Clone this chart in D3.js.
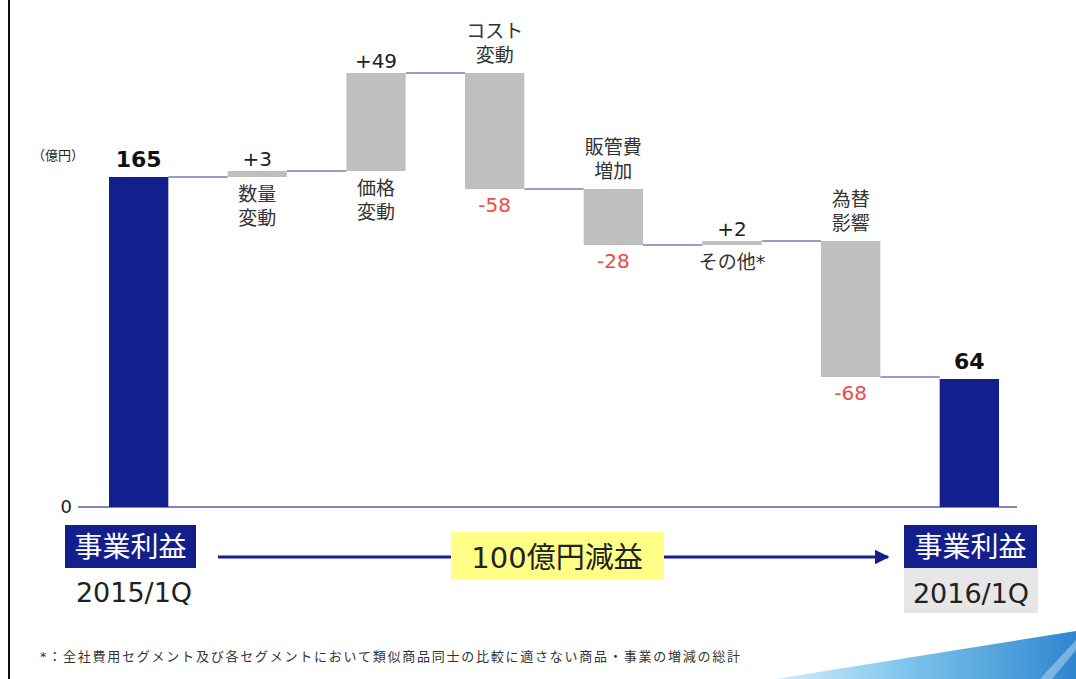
<!DOCTYPE html>
<html>
<head>
<meta charset="utf-8">
<script src="https://cdn.jsdelivr.net/npm/d3@7"></script>
<style>
  html, body { margin: 0; padding: 0; background: #fff; }
  svg { display: block; }
  text { font-family: "DejaVu Sans", "Noto Sans CJK JP", sans-serif; }
</style>
</head>
<body>
<svg id="chart" width="1076" height="679"></svg>
<script>
// ---- data ----
const categories = ["2015/1Q", "数量変動", "価格変動", "コスト変動", "販管費増加", "その他*", "為替影響", "2016/1Q"];
const nameLines = [[], ["数量", "変動"], ["価格", "変動"], ["コスト", "変動"], ["販管費", "増加"], ["その他*"], ["為替", "影響"], []];
const values = [165, 3, 49, -58, -28, 2, -68, 64];
const kinds = ["total", "delta", "delta", "delta", "delta", "delta", "delta", "total"];
const valueLabels = ["165", "+3", "+49", "-58", "-28", "+2", "-68", "64"];
const yTicks = [0];
const unitLabel = "（億円）";
const startLabel = "2015/1Q";
const endLabel = "2016/1Q";
const boxLabel = "事業利益";
const changeLabel = "100億円減益";
const footnote = "*：全社費用セグメント及び各セグメントにおいて類似商品同士の比較に適さない商品・事業の増減の総計";

// ---- build waterfall rows ----
let run = 0;
const rows = categories.map((c, i) => {
  let lo, hi;
  if (kinds[i] === "total") { lo = 0; hi = values[i]; run = values[i]; }
  else { const s = run; run = s + values[i]; lo = Math.min(s, run); hi = Math.max(s, run); }
  return { cat: c, i, lo, hi, end: run, v: values[i], kind: kinds[i], label: valueLabels[i], lines: nameLines[i] };
});

const svg = d3.select("#chart");
const x = d3.scaleBand().domain(categories).range([109, 999]).paddingInner(0.5).paddingOuter(0);
const y = d3.scaleLinear().domain([0, 250]).range([507, 7]);

const NAVY = "#121f8c";
const GRAY = "#bfbfbf";
const RED = "#ef4a45";
const LINE = "#7b7bb8";

// left page border
svg.append("line").attr("x1", 9).attr("x2", 9).attr("y1", 0).attr("y2", 679)
  .attr("stroke", "#111").attr("stroke-width", 2);

// bottom-right decoration
const defs = svg.append("defs");
const grad = defs.append("linearGradient").attr("id", "sw").attr("x1", "0").attr("y1", "0").attr("x2", "1").attr("y2", "0");
grad.append("stop").attr("offset", "0").attr("stop-color", "#d6eefb");
grad.append("stop").attr("offset", "0.45").attr("stop-color", "#7cc3ec");
grad.append("stop").attr("offset", "1").attr("stop-color", "#2f86cf");
svg.append("path").attr("d", "M775,679 L1076,631 L1076,679 Z").attr("fill", "url(#sw)");
svg.append("path").attr("d", "M1040,679 L1076,640 L1076,650 L1052,679 Z").attr("fill", "#ffffff").attr("opacity", 0.35);

// baseline + y axis
svg.append("line").attr("x1", 78).attr("x2", 1017).attr("y1", y(0)).attr("y2", y(0))
  .attr("stroke", "#8585b5").attr("stroke-width", 2);
const yAxis = svg.append("g").attr("transform", "translate(76,0)")
  .call(d3.axisLeft(y).tickValues(yTicks).tickSize(0).tickPadding(4));
yAxis.select(".domain").remove();
yAxis.selectAll("text").attr("font-size", 18).attr("fill", "#222")
  .attr("font-family", "DejaVu Sans, Noto Sans CJK JP, sans-serif");

// unit
svg.append("text").attr("x", 32).attr("y", 160).attr("font-size", 13).attr("fill", "#222").text(unitLabel);

// connectors
for (let k = 0; k < rows.length - 1; k++) {
  const r = rows[k];
  svg.append("line")
    .attr("x1", x(r.cat) + x.bandwidth()).attr("x2", x(rows[k + 1].cat))
    .attr("y1", y(r.end)).attr("y2", y(r.end))
    .attr("stroke", LINE).attr("stroke-width", 1.5);
}

// bars
svg.append("g").selectAll("rect").data(rows).join("rect")
  .attr("x", d => x(d.cat)).attr("width", x.bandwidth())
  .attr("y", d => y(d.hi)).attr("height", d => Math.max(2, y(d.lo) - y(d.hi)))
  .attr("fill", d => d.kind === "total" ? NAVY : GRAY);

// value labels & names
rows.forEach(d => {
  const cx = x(d.cat) + x.bandwidth() / 2;
  const top = y(d.hi), bot = y(d.lo);
  if (d.kind === "total") {
    svg.append("text").attr("x", cx).attr("y", top - 10).attr("text-anchor", "middle")
      .attr("font-size", 22).attr("font-weight", "bold").attr("fill", "#111").text(d.label);
  } else if (d.v >= 0) {
    svg.append("text").attr("x", cx).attr("y", top - 5).attr("text-anchor", "middle")
      .attr("font-size", 20).attr("fill", "#222").text(d.label);
    d.lines.forEach((ln, j) => {
      svg.append("text").attr("x", cx).attr("y", bot + 24 + j * 24).attr("text-anchor", "middle")
        .attr("font-size", 19).attr("fill", "#333").text(ln);
    });
  } else {
    svg.append("text").attr("x", cx).attr("y", bot + 23).attr("text-anchor", "middle")
      .attr("font-size", 20).attr("fill", RED).text(d.label);
    const n = d.lines.length;
    d.lines.forEach((ln, j) => {
      svg.append("text").attr("x", cx).attr("y", top - 11 - (n - 1 - j) * 24).attr("text-anchor", "middle")
        .attr("font-size", 19).attr("fill", "#333").text(ln);
    });
  }
});

// bottom boxes
function navyBox(x0, x1) {
  svg.append("rect").attr("x", x0).attr("y", 525).attr("width", x1 - x0).attr("height", 43).attr("fill", NAVY);
  svg.append("text").attr("x", (x0 + x1) / 2).attr("y", 557).attr("text-anchor", "middle")
    .attr("font-size", 28).attr("fill", "#fff").text(boxLabel);
}
navyBox(65, 196);
navyBox(904, 1037);
svg.append("text").attr("x", 134).attr("y", 602).attr("text-anchor", "middle")
  .attr("font-size", 27).attr("fill", "#222").text(startLabel);
svg.append("rect").attr("x", 904).attr("y", 568).attr("width", 134).attr("height", 45).attr("fill", "#e6e6e6");
svg.append("text").attr("x", 971).attr("y", 603).attr("text-anchor", "middle")
  .attr("font-size", 27).attr("fill", "#222").text(endLabel);

// arrow
defs.append("marker").attr("id", "ah").attr("viewBox", "0 0 10 10").attr("refX", 9).attr("refY", 5)
  .attr("markerWidth", 5).attr("markerHeight", 5).attr("orient", "auto")
  .append("path").attr("d", "M0,0 L10,5 L0,10 Z").attr("fill", NAVY);
svg.append("line").attr("x1", 218).attr("x2", 888).attr("y1", 557).attr("y2", 557)
  .attr("stroke", NAVY).attr("stroke-width", 3).attr("marker-end", "url(#ah)");

// yellow callout
svg.append("rect").attr("x", 451).attr("y", 532).attr("width", 213).attr("height", 48).attr("fill", "#ffff88");
svg.append("text").attr("x", 557).attr("y", 568).attr("text-anchor", "middle")
  .attr("font-size", 29).attr("fill", "#222").text(changeLabel);

// footnote
svg.append("text").attr("x", 40).attr("y", 661).attr("font-size", 13).attr("fill", "#333")
  .attr("textLength", 700).attr("lengthAdjust", "spacing").text(footnote);
</script>
</body>
</html>
